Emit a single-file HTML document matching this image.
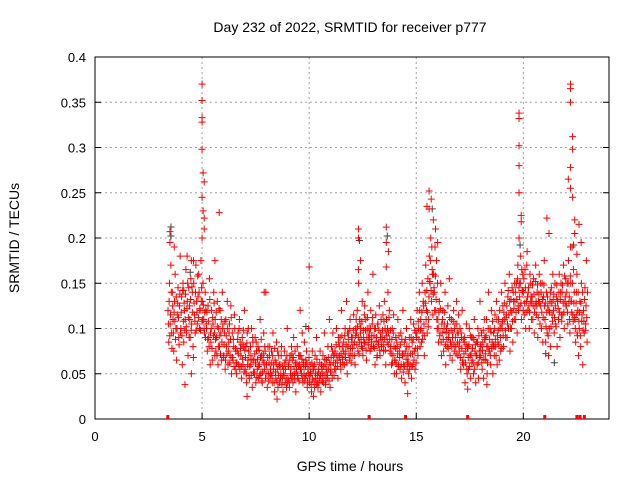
<!DOCTYPE html>
<html><head><meta charset="utf-8"><style>
html,body{margin:0;padding:0;background:#fff}
svg{display:block;font-family:"Liberation Sans",sans-serif}
</style></head><body>
<svg id="chart" width="640" height="480">
<text x="350" y="32" font-size="14" text-anchor="middle">Day 232 of 2022, SRMTID for receiver p777</text>
<text x="350" y="471" font-size="14" text-anchor="middle">GPS time / hours</text>
<text transform="translate(19,238) rotate(-90)" font-size="14" text-anchor="middle">SRMTID / TECUs</text>
<g id="grid"></g><g id="gray"></g><g id="pts"></g><g id="axes"></g>
</svg>
<script>
const binStart = 3.4;
const binStep = 0.2;
const binValues = [
[120,85,150,105,170,95],[140,110,75,130,160,100],[65,115,145,90,125,180],[100,135,60,150,85,120],
[110,165,95,130,70,145],[125,90,155,105,140,80],[150,115,95,170,130,105],[135,160,100,120,175,145],
[130,150,110,95,140,120],[100,75,125,90,155,60],[85,120,65,105,140,95],[110,75,90,130,60,100],
[80,120,95,65,140,105],[70,95,55,110,80,130],[60,85,105,70,125,50],[95,65,80,115,55,75],
[50,75,95,60,110,85],[70,45,90,60,80,120],[55,80,40,95,65,75],[45,70,60,100,35,85],
[65,50,90,40,75,55],[80,45,60,110,50,70],[40,65,95,55,75,140],[60,35,80,50,70,45],
[50,75,40,95,60,30],[65,45,85,55,35,70],[40,60,50,80,45,30],[55,75,40,65,35,100],
[45,60,35,70,55,80],[65,40,90,50,75,30],[55,80,45,70,60,120],[70,50,95,40,60,85],
[45,65,75,35,55,100],[40,60,50,30,75,55],[55,35,70,45,90,40],[35,55,45,75,30,60],
[50,70,40,95,60,45],[65,45,80,55,110,35],[60,80,45,95,70,55],[75,55,100,65,45,85],
[70,90,55,120,80,60],[85,60,100,75,130,50],[80,95,65,110,70,90],[90,70,115,85,60,100],
[95,120,75,150,85,105],[100,80,130,70,90,115],[85,110,65,100,140,90],[95,75,120,85,105,160],
[80,100,60,115,90,70],[105,85,125,70,95,80],[90,115,75,130,100,60],[110,85,140,95,120,75],
[80,60,100,70,115,50],[65,90,50,80,110,60],[75,55,95,45,70,120],[60,85,40,75,100,55],
[70,50,90,60,110,45],[85,60,105,75,55,95],[90,120,70,100,140,80],[110,85,150,95,125,70],
[140,170,120,95,155,110],[180,150,200,130,165,115],[160,140,190,120,175,100],[110,85,130,95,150,70],
[95,120,75,105,140,60],[100,80,125,90,155,70],[85,110,65,95,120,75],[105,80,130,95,70,115],
[75,100,55,90,120,65],[60,85,40,75,105,50],[80,55,100,70,45,90],[65,90,50,110,75,40],
[85,60,100,45,75,130],[70,95,55,85,45,110],[90,65,110,50,80,140],[75,100,60,120,85,50],
[95,70,115,80,130,60],[85,110,65,100,75,140],[100,125,80,110,150,90],[115,90,135,100,160,75],
[120,100,145,85,130,110],[130,110,150,95,170,120],[150,125,180,110,140,160],[140,115,165,100,130,185],
[120,145,100,160,130,110],[135,110,155,95,125,170],[115,140,90,130,160,105],[125,100,150,85,135,175],
[110,85,140,95,125,70],[100,130,80,145,115,160],[120,95,150,105,135,80],[130,110,160,90,140,115],
[140,115,170,100,130,155],[125,150,105,175,135,95],[150,130,190,115,165,140],[110,85,140,95,120,70],
[100,130,80,150,115,60],[120,95,145,105,175,85]
];
const binValuesB = [
[105,130,92,115,140,78],[125,95,118,108,88,135],[100,128,112,82,138,95],[118,92,142,108,128,98],
[138,102,122,150,112,90],[110,132,98,146,118,68],[128,108,140,98,118,158],[112,140,122,98,130,108],
[110,126,100,118,90,105],[118,88,108,80,132,95],[100,78,112,92,128,70],[88,118,70,102,80,122],
[92,72,110,85,100,68],[82,108,65,92,72,100],[75,95,62,88,112,68],[68,88,58,100,78,62],
[62,88,72,100,55,78],[58,82,66,98,52,76],[68,50,84,60,100,48],[58,80,48,66,90,52],
[52,72,62,85,46,66],[58,76,48,68,88,42],[52,72,62,80,45,60],[50,68,42,62,80,55],
[62,48,70,55,40,78],[52,62,42,75,48,58],[60,45,70,38,58,50],[48,62,55,45,70,40],
[58,42,65,50,45,72],[48,68,58,44,62,52],[62,48,58,42,70,55],[55,66,45,62,50,42],
[58,48,62,42,50,68],[48,52,38,62,44,58],[42,60,50,38,66,48],[52,40,62,48,42,55],
[42,58,48,66,38,52],[55,48,68,42,62,52],[68,52,75,62,48,72],[62,82,70,58,90,68],
[80,62,72,92,66,75],[72,92,68,82,62,95],[88,72,100,78,62,85],[78,98,82,70,92,110],
[82,102,90,72,110,95],[88,108,78,98,84,125],[98,76,90,112,82,100],[88,100,78,92,112,80],
[92,78,100,86,68,105],[82,98,76,90,110,88],[98,82,108,88,76,95],[92,100,82,112,88,98],
[72,88,62,95,80,65],[78,62,85,72,58,92],[68,82,60,88,72,52],[72,58,88,66,80,62],
[62,80,55,72,90,58],[72,88,65,98,78,62],[95,78,108,88,120,98],[100,118,88,130,105,92],
[128,110,142,118,102,135],[152,175,142,190,160,138],[145,120,158,132,110,150],[100,118,92,122,85,105],
[110,88,100,118,82,96],[88,105,78,95,112,85],[98,80,90,108,82,100],[90,72,105,85,95,80],
[85,68,95,78,62,88],[72,90,62,82,55,78],[68,82,58,92,72,62],[78,62,88,55,82,70],
[70,85,62,92,68,80],[82,62,76,98,66,88],[72,92,80,62,100,75],[88,70,96,78,108,82],
[80,100,88,70,110,92],[98,82,120,90,105,78],[108,92,118,128,98,112],[125,105,142,115,130,100],
[132,118,108,140,122,150],[140,118,132,155,125,145],[135,150,128,165,142,120],[155,128,145,118,170,135],
[140,125,118,150,135,128],[148,125,138,118,152,130],[125,148,112,138,128,150],[140,118,132,112,148,125],
[128,102,118,135,92,120],[118,140,102,128,108,132],[138,112,125,102,148,130],[122,140,118,132,150,108],
[148,128,118,158,135,125],[140,118,150,128,110,158],[130,118,150,108,128,112],[100,128,115,92,140,108],
[118,92,128,108,140,98],[108,132,98,125,112,140]
];
const spikeTimes = [3.5,3.5,3.7,4.3,4.5,4.6,5.0,5.0,5.0,5.0,5.0,5.05,5.1,5.0,5.05,5.1,5.1,5.0,5.8,5.6,7.9,10.0,12.3,12.3,12.4,12.3,13.6,13.6,13.7,13.6,15.6,15.7,15.6,15.8,15.5,15.9,16.0,19.8,19.8,19.8,19.8,19.8,19.9,19.9,19.8,21.1,21.2,22.2,22.2,22.2,22.3,22.3,22.2,22.1,22.2,22.3,22.4,22.4,22.2,22.6,22.7,22.5,22.5,4.2,4.5,7.1,8.5,10.2,14.6,17.4,18.3];
const spikeValues = [195,207,190,180,175,175,370,352,333,328,298,272,262,245,230,222,210,200,228,175,140,168,210,200,175,165,212,195,185,168,252,243,232,220,235,210,195,338,332,302,280,250,225,218,200,222,205,370,365,350,312,298,278,265,255,245,220,205,190,215,195,160,182,38,50,25,22,25,28,33,38];
const grayTimes = [3.5,3.5,4.1,4.4,9.8,12.3,13.6,15.7,19.8,21.0,21.4,22.3];
const grayValues = [200,210,140,160,100,195,200,230,190,70,60,190];
const tickMarks = [3.4,12.8,14.5,17.4,21.0,22.5,22.65,22.85];
const xTicks = [0,5,10,15,20];
const yTicks = [0,0.05,0.1,0.15,0.2,0.25,0.3,0.35,0.4];
const yTickLabels = ["0","0.05","0.1","0.15","0.2","0.25","0.3","0.35","0.4"];

const L=95,R=609,T=57,B=419;
const xs=h=>L+(h/24)*(R-L);
const ys=v=>B-(v/0.4)*(B-T);
const NS="http://www.w3.org/2000/svg";
function mk(tag,attrs,parent){const e=document.createElementNS(NS,tag);for(const k in attrs)e.setAttribute(k,attrs[k]);parent.appendChild(e);return e;}
const grid=document.getElementById('grid'),axes=document.getElementById('axes');
xTicks.forEach(t=>{
  const x=xs(t);
  if(t>0){const g=mk('line',{x1:x,y1:T,x2:x,y2:B,stroke:'#a0a0a0','stroke-dasharray':'2,3'},grid);
  
  }
  mk('line',{x1:x,y1:B,x2:x,y2:B-6,stroke:'#000'},axes);
  const lb=mk('text',{x:x,y:B+22,'font-size':13,'text-anchor':'middle'},axes);lb.textContent=t;
  
  
});
yTicks.forEach((t,i)=>{
  const y=ys(t);
  if(t>0&&t<0.4){const g=mk('line',{x1:L,y1:y,x2:R,y2:y,stroke:'#a0a0a0','stroke-dasharray':'2,3'},grid);
  
  }
  mk('line',{x1:L,y1:y,x2:L+6,y2:y,stroke:'#000'},axes);
  mk('line',{x1:R,y1:y,x2:R-6,y2:y,stroke:'#000'},axes);
  const lb=mk('text',{x:L-9,y:y+5,'font-size':13,'text-anchor':'end'},axes);lb.textContent=yTickLabels[i];
  
  
});
const frame=mk('rect',{x:L,y:T,width:R-L,height:B-T,fill:'none',stroke:'#000'},axes);


function plus(x,y,col,parent){
  return mk('path',{d:`M${x-3.5},${y}H${x+3.5}M${x},${y-3.5}V${y+3.5}`,stroke:col,'stroke-width':1,fill:'none'},parent);
}
const gray=document.getElementById('gray'),pts=document.getElementById('pts');
grayTimes.forEach((t,i)=>{
  const p=plus(xs(t)+1,ys(grayValues[i]/1000)-2,'#404040',gray);
  
  
});
function drawBins(arr,phase){
  arr.forEach((bin,i)=>{
    bin.forEach((v,j)=>{
      const t=binStart+i*binStep+phase+j*binStep/bin.length;
      const p=plus(xs(t),ys(v/1000),'#ff0000',pts);
      
      
    });
  });
}
drawBins(binValues,0.01);
drawBins(binValuesB,0.027);
spikeTimes.forEach((t,i)=>{
  const p=plus(xs(t),ys(spikeValues[i]/1000),'#ff0000',pts);
  
  
});
tickMarks.forEach(t=>{
  const r=mk('rect',{x:xs(t)-1.5,y:B-4,width:3,height:4,fill:'#ff0000'},axes);
  
  
});
</script>
</body></html>
